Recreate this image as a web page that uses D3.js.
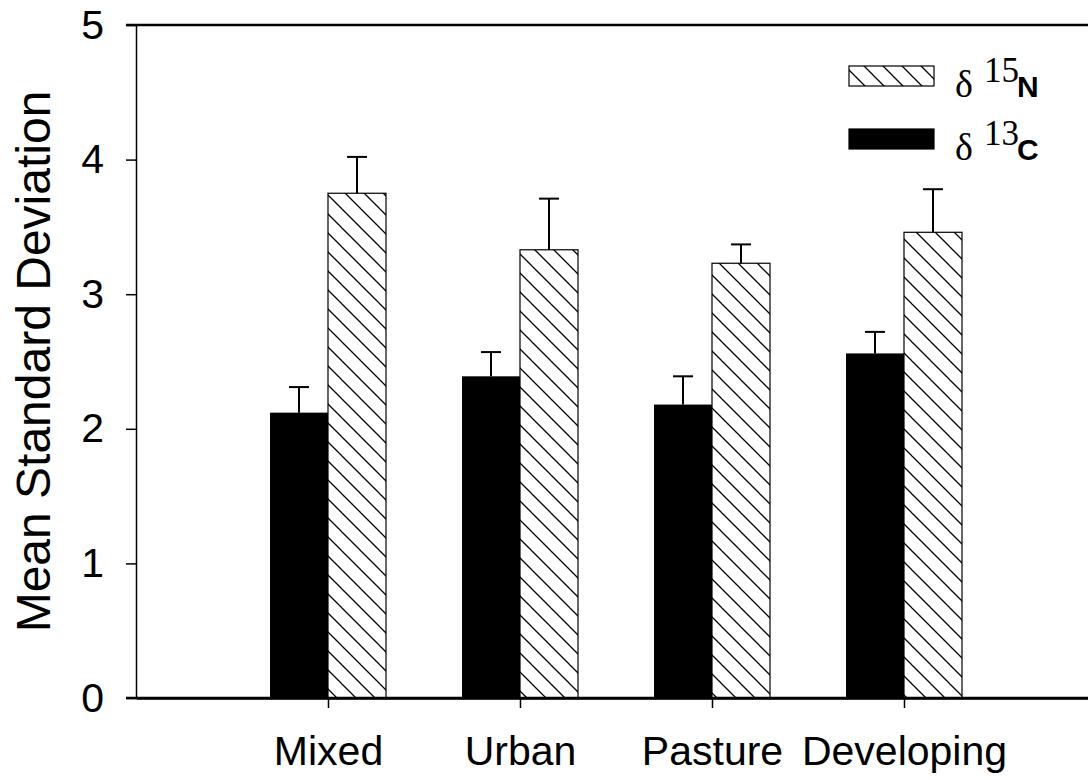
<!DOCTYPE html>
<html>
<head>
<meta charset="utf-8">
<script src="https://cdn.jsdelivr.net/npm/d3@7"></script>
<style>
    body { margin: 0; background: #fff; }
    svg { display: block; }
    .axis text { font-family: Arial, "Liberation Sans", sans-serif; font-size: 41px; fill: #000; }
    .axis path, .axis line { stroke: #000; }
</style>
</head>
<body>
<script>
const categories = ['Mixed', 'Urban', 'Pasture', 'Developing'];
const c13 = [2.12, 2.39, 2.18, 2.56];      // black bars
const c13Err = [0.19, 0.18, 0.21, 0.16];
const n15 = [3.75, 3.33, 3.23, 3.46];      // hatched bars
const n15Err = [0.27, 0.38, 0.14, 0.32];
const yTicks = [0, 1, 2, 3, 4, 5];

const width = 1088;
const height = 780;

const svg = d3.select('body').append('svg')
    .attr('width', width)
    .attr('height', height);

// hatch pattern, lines running top-left to bottom-right
const defs = svg.append('defs');
const pat = defs.append('pattern')
    .attr('id', 'hatch')
    .attr('patternUnits', 'userSpaceOnUse')
    .attr('width', 19)
    .attr('height', 19);
pat.append('rect').attr('width', 19).attr('height', 19).attr('fill', '#fff');
pat.append('path')
    .attr('d', 'M-2,-2 L21,21 M-21,0 L2,21 M17,-2 L21,2')
    .attr('stroke', '#000')
    .attr('stroke-width', 1.3);

const xscale = d3.scalePoint().domain(categories).range([136, 1096]).padding(1);
const yscale = d3.scaleLinear().domain([0, 5]).range([698, 25]);
const barW = 58;

//bars
const chart = svg.append('g').attr('class', 'chart');
const rows = categories.map((c, i) => ({ cat: c, c13: c13[i], c13e: c13Err[i], n15: n15[i], n15e: n15Err[i] }));

chart.selectAll('rect.c13').data(rows).enter().append('rect')
    .attr('class', 'c13')
    .attr('x', (d) => xscale(d.cat) - barW)
    .attr('y', (d) => yscale(d.c13))
    .attr('width', barW)
    .attr('height', (d) => yscale(0) - yscale(d.c13))
    .attr('fill', '#000');

chart.selectAll('rect.n15').data(rows).enter().append('rect')
    .attr('class', 'n15')
    .attr('x', (d) => xscale(d.cat))
    .attr('y', (d) => yscale(d.n15))
    .attr('width', barW)
    .attr('height', (d) => yscale(0) - yscale(d.n15))
    .attr('fill', 'url(#hatch)')
    .attr('stroke', '#000')
    .attr('stroke-width', 1.2);

//error bars (upper only)
const errs = [];
rows.forEach((d) => {
    errs.push({ cx: xscale(d.cat) - barW / 2, v: d.c13, e: d.c13e });
    errs.push({ cx: xscale(d.cat) + barW / 2, v: d.n15, e: d.n15e });
});
const eg = chart.selectAll('g.err').data(errs).enter().append('g').attr('class', 'err')
    .attr('stroke', '#000').attr('stroke-width', 2);
eg.append('line')
    .attr('x1', (d) => d.cx).attr('x2', (d) => d.cx)
    .attr('y1', (d) => yscale(d.v)).attr('y2', (d) => yscale(d.v + d.e));
eg.append('line')
    .attr('x1', (d) => d.cx - 10).attr('x2', (d) => d.cx + 10)
    .attr('y1', (d) => yscale(d.v + d.e)).attr('y2', (d) => yscale(d.v + d.e));

//axes
const yaxis = d3.axisLeft(yscale).tickValues(yTicks).tickFormat(d3.format('d'))
    .tickSize(10).tickSizeOuter(0).tickPadding(22);
svg.append('g').attr('class', 'axis yaxis')
    .attr('transform', 'translate(136,0)')
    .call(yaxis)
    .call((g) => g.select('.domain').attr('stroke-width', 1.5))
    .call((g) => g.selectAll('.tick line').attr('stroke-width', 1.5));

const xaxis = d3.axisBottom(xscale).tickSize(10).tickSizeOuter(0).tickPadding(28);
svg.append('g').attr('class', 'axis xaxis')
    .attr('transform', `translate(0,${yscale(0)})`)
    .call(xaxis)
    .call((g) => g.select('.domain').attr('stroke-width', 2.5))
    .call((g) => g.selectAll('.tick line').attr('stroke-width', 1.5));

//bottom line from the 0 tick and top frame line
svg.append('line')
    .attr('x1', 126).attr('x2', width)
    .attr('y1', yscale(0)).attr('y2', yscale(0))
    .attr('stroke', '#000').attr('stroke-width', 2.5);
svg.append('line')
    .attr('x1', 126).attr('x2', width)
    .attr('y1', yscale(5)).attr('y2', yscale(5))
    .attr('stroke', '#000').attr('stroke-width', 2.5);

//y label
svg.append('text')
    .attr('transform', `translate(50,${(yscale(0) + yscale(5)) / 2}) rotate(-90)`)
    .attr('text-anchor', 'middle')
    .style('font-family', 'Arial, "Liberation Sans", sans-serif')
    .style('font-size', '48px')
    .text('Mean Standard Deviation');

//legend
const legend = svg.append('g').attr('class', 'legend');
const legendItems = [
    { fill: 'url(#hatch)', iso: '15', el: 'N', y: 66 },
    { fill: '#000', iso: '13', el: 'C', y: 129 }
];
legendItems.forEach((it) => {
    legend.append('rect')
        .attr('x', 849).attr('y', it.y)
        .attr('width', 85).attr('height', 20)
        .attr('fill', it.fill)
        .attr('stroke', '#000').attr('stroke-width', 1.2);
    const t = legend.append('text')
        .attr('x', 955).attr('y', it.y + 31);
    t.append('tspan')
        .style('font-family', '"Liberation Serif", "Times New Roman", serif')
        .style('font-size', '38px')
        .text('δ');
    t.append('tspan')
        .attr('x', 984).attr('y', it.y + 16)
        .style('font-family', '"Liberation Serif", "Times New Roman", serif')
        .style('font-size', '35px')
        .text(it.iso);
    t.append('tspan')
        .attr('x', 1017).attr('y', it.y + 31)
        .style('font-family', 'Arial, "Liberation Sans", sans-serif')
        .style('font-weight', 'bold')
        .style('font-size', '30px')
        .text(it.el);
});
</script>
</body>
</html>
